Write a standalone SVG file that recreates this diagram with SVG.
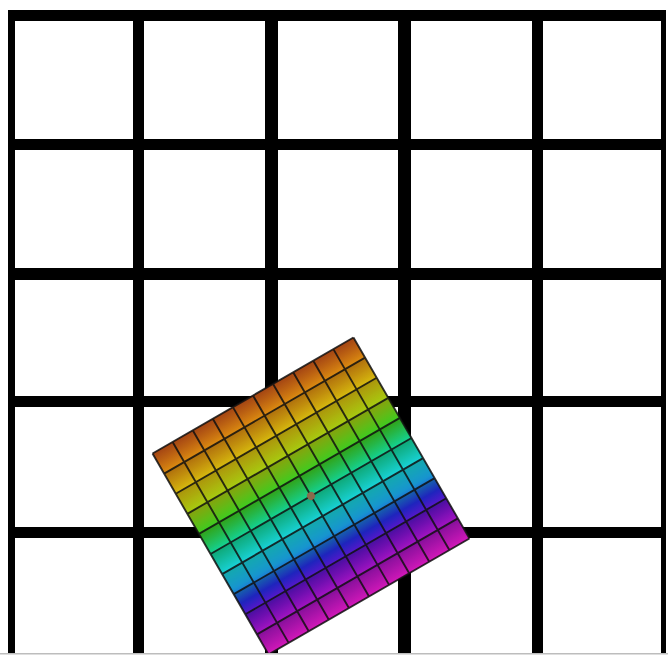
<svg xmlns="http://www.w3.org/2000/svg" width="668" height="656" viewBox="0 0 668 656">
<style>
.gl{fill:#000}
.cl{fill:none;stroke:#111;stroke-width:1.9;stroke-opacity:0.85}
</style>
<defs>
<linearGradient id="hue" x1="0" y1="0" x2="0" y2="1">
<stop offset="0" stop-color="#cc5618"/>
<stop offset="0.1" stop-color="#dc8c10"/>
<stop offset="0.2" stop-color="#d6ba0e"/>
<stop offset="0.3" stop-color="#a6cc10"/>
<stop offset="0.4" stop-color="#3ccc20"/>
<stop offset="0.5" stop-color="#12d296"/>
<stop offset="0.6" stop-color="#18d2d8"/>
<stop offset="0.68" stop-color="#189ad8"/>
<stop offset="0.75" stop-color="#2228d2"/>
<stop offset="0.82" stop-color="#6c10c8"/>
<stop offset="0.92" stop-color="#b214c0"/>
<stop offset="1" stop-color="#d218b8"/>
</linearGradient>
<linearGradient id="shadeG" x1="0" y1="0" x2="0" y2="1">
<stop offset="0" stop-color="#000" stop-opacity="0.2"/>
<stop offset="1" stop-color="#000" stop-opacity="0"/>
</linearGradient>
<pattern id="cellShade" x="-116" y="-116" width="23.2" height="23.2" patternUnits="userSpaceOnUse">
<rect width="23.2" height="23.2" fill="url(#shadeG)"/>
</pattern>
<clipPath id="frame"><rect x="0" y="0" width="668" height="653"/></clipPath>
</defs>
<rect width="668" height="656" fill="#fff"/>
<g id="grid">
<rect class="gl" x="8" y="10" width="7" height="643"/>
<rect class="gl" x="133" y="10" width="11" height="643"/>
<rect class="gl" x="265" y="10" width="13" height="643"/>
<rect class="gl" x="398" y="10" width="13" height="643"/>
<rect class="gl" x="532" y="10" width="11" height="643"/>
<rect class="gl" x="661" y="10" width="5" height="643"/>
<rect class="gl" x="8" y="10" width="658" height="11"/>
<rect class="gl" x="8" y="139" width="658" height="11"/>
<rect class="gl" x="8" y="268" width="658" height="12"/>
<rect class="gl" x="8" y="396" width="658" height="11"/>
<rect class="gl" x="8" y="527" width="658" height="11"/>
<rect x="0" y="653" width="668" height="1.5" fill="#bdbdbd"/>
</g>
<g clip-path="url(#frame)">
<g id="tile" transform="translate(311,496) rotate(-30)">
<rect x="-116" y="-116" width="232" height="232" fill="url(#hue)"/>
<rect x="-116" y="-116" width="232" height="232" fill="url(#cellShade)"/>
<path class="cl" d="M-116,-116V116M-92.8,-116V116M-69.6,-116V116M-46.4,-116V116M-23.2,-116V116M0,-116V116M23.2,-116V116M46.4,-116V116M69.6,-116V116M92.8,-116V116M116,-116V116M-116,-116H116M-116,-92.8H116M-116,-69.6H116M-116,-46.4H116M-116,-23.2H116M-116,0H116M-116,23.2H116M-116,46.4H116M-116,69.6H116M-116,92.8H116M-116,116H116"/>
<circle cx="0" cy="0" r="4" fill="#8b6a4c"/>
</g>
</g>
</svg>
